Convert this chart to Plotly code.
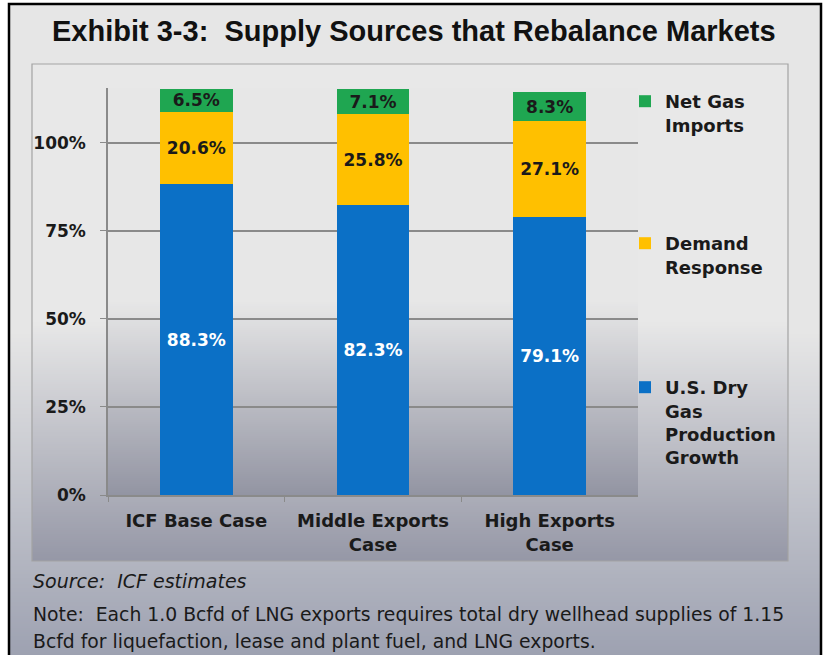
import plotly.graph_objects as go

W, H = 825, 655

# data (percent of incremental supply)
cases = ["ICF Base Case", "Middle Exports<br>Case", "High Exports<br>Case"]
us_dry_gas = [88.3, 82.3, 79.1]
demand_response = [20.6, 25.8, 27.1]
net_gas_imports = [6.5, 7.1, 8.3]
y_ticks = [0, 25, 50, 75, 100]

TITLE_FONT = "Arial, 'Liberation Sans', sans-serif"
FONT = "'DejaVu Sans', Arial, sans-serif"
INK = "#1a1a1a"


def px(x):
    return x / W


def py(y):
    return 1 - y / H


def _mix(c0, c1, t):
    a = [int(c0[i:i + 2], 16) for i in (1, 3, 5)]
    b = [int(c1[i:i + 2], 16) for i in (1, 3, 5)]
    return "#" + "".join(f"{round(u + (v - u) * t):02x}" for u, v in zip(a, b))


def gradient_box(x0, x1, y0, y1, fade_from, top, bottom, step=2):
    """Flat colour down to fade_from, then a vertical fade to the bottom colour."""
    out = [dict(type="rect", xref="paper", yref="paper", layer="below",
                x0=px(x0), x1=px(x1), y0=py(fade_from + 1), y1=py(y0),
                fillcolor=top, line_width=0)]
    y = fade_from
    while y < y1:
        t = (y - fade_from) / (y1 - fade_from)
        out.append(dict(type="rect", xref="paper", yref="paper", layer="below",
                        x0=px(x0), x1=px(x1), y0=py(min(y + step + 1, y1)), y1=py(y),
                        fillcolor=_mix(top, bottom, t), line_width=0))
        y += step
    return out


shapes = []
shapes += gradient_box(9, 821, 3, 660, 330, "#e6e6e6", "#9ca0b0")
shapes += gradient_box(32, 788, 64, 561, 320, "#e8e8e8", "#9597a6")
shapes += gradient_box(108, 638, 88, 495, 300, "#e7e7e7", "#9294a2")
shapes.append(dict(type="rect", xref="paper", yref="paper", layer="below",
                   x0=px(32), x1=px(788), y0=py(561), y1=py(64),
                   line=dict(color="#a3a3a3", width=1.2)))
shapes.append(dict(type="rect", xref="paper", yref="paper", layer="below",
                   x0=px(9), x1=px(821), y0=py(662), y1=py(4),
                   line=dict(color="#000000", width=2.5)))

fig = go.Figure()
series = [
    ("U.S. Dry<br>Gas<br>Production<br>Growth", us_dry_gas, "#0b70c6", "#ffffff", "legend3"),
    ("Demand<br>Response", demand_response, "#ffc000", INK, "legend2"),
    ("Net Gas<br>Imports", net_gas_imports, "#1fa651", INK, "legend"),
]
for name, vals, color, txt, leg in series:
    fig.add_trace(go.Bar(
        name=name,
        x=cases,
        y=vals,
        width=0.41,
        marker=dict(color=color, line_width=0),
        text=[f"{v:.1f}%" for v in vals],
        textposition="inside",
        insidetextanchor="middle",
        constraintext="none",
        textfont=dict(family=FONT, size=17, color=txt, weight="bold"),
        legend=leg,
        hovertemplate="%{x}: %{y:.1f}%<extra></extra>",
    ))

legend_style = dict(
    xanchor="left", yanchor="top", bgcolor="rgba(0,0,0,0)", borderwidth=0,
    valign="top", font=dict(family=FONT, size=18, color=INK, weight="bold"),
    itemclick=False, itemdoubleclick=False,
)

fig.update_layout(
    width=W,
    height=H,
    margin=dict(l=0, r=0, t=0, b=0),
    paper_bgcolor="#ffffff",
    plot_bgcolor="rgba(0,0,0,0)",
    barmode="stack",
    bargap=0.59,
    shapes=shapes,
    showlegend=True,
    legend=dict(**legend_style, x=px(625), y=py(83)),
    legend2=dict(**legend_style, x=px(625), y=py(225)),
    legend3=dict(**legend_style, x=px(625), y=py(369)),
    xaxis=dict(
        domain=[px(108), px(638)],
        automargin=False,
        showline=True, linecolor="#8a8a8a", linewidth=1.5,
        ticks="outside", tickson="boundaries", ticklen=5, tickcolor="#8a8a8a",
        ticklabelstandoff=9,
        tickfont=dict(family=FONT, size=18, color=INK, weight="bold"),
        showgrid=False,
    ),
    yaxis=dict(
        domain=[py(495), py(88.4)],
        range=[0, 115.5],
        automargin=False,
        tickvals=y_ticks,
        ticktext=[f"{v}%" for v in y_ticks],
        showline=True, linecolor="#8a8a8a", linewidth=1.5,
        ticks="outside", ticklen=6, tickcolor="#8a8a8a",
        ticklabelstandoff=11,
        showgrid=True, gridcolor="#8a8a8a", gridwidth=1.5,
        zeroline=False,
        tickfont=dict(family=FONT, size=17, color=INK, weight="bold"),
    ),
    annotations=[
        dict(text="Exhibit 3-3:\u00a0 Supply Sources that Rebalance Markets",
             xref="paper", yref="paper", x=px(414), y=py(31),
             xanchor="center", yanchor="middle", showarrow=False,
             font=dict(family=TITLE_FONT, size=29, color="#111111", weight="bold")),
        dict(text="<i>Source:\u00a0 ICF estimates</i>",
             xref="paper", yref="paper", x=px(31), y=py(581),
             xanchor="left", yanchor="middle", showarrow=False,
             font=dict(family=FONT, size=19, color=INK)),
        dict(text="Note:\u00a0 Each 1.0 Bcfd of LNG exports requires total dry wellhead supplies of 1.15",
             xref="paper", yref="paper", x=px(31), y=py(614),
             xanchor="left", yanchor="middle", showarrow=False,
             font=dict(family=FONT, size=18.8, color=INK)),
        dict(text="Bcfd for liquefaction, lease and plant fuel, and LNG exports.",
             xref="paper", yref="paper", x=px(31), y=py(641),
             xanchor="left", yanchor="middle", showarrow=False,
             font=dict(family=FONT, size=18.8, color=INK)),
    ],
)

fig.write_html(
    "out.html",
    config={"displayModeBar": False},
    post_script="document.body.style.margin='0';document.body.style.overflow='hidden';",
)
